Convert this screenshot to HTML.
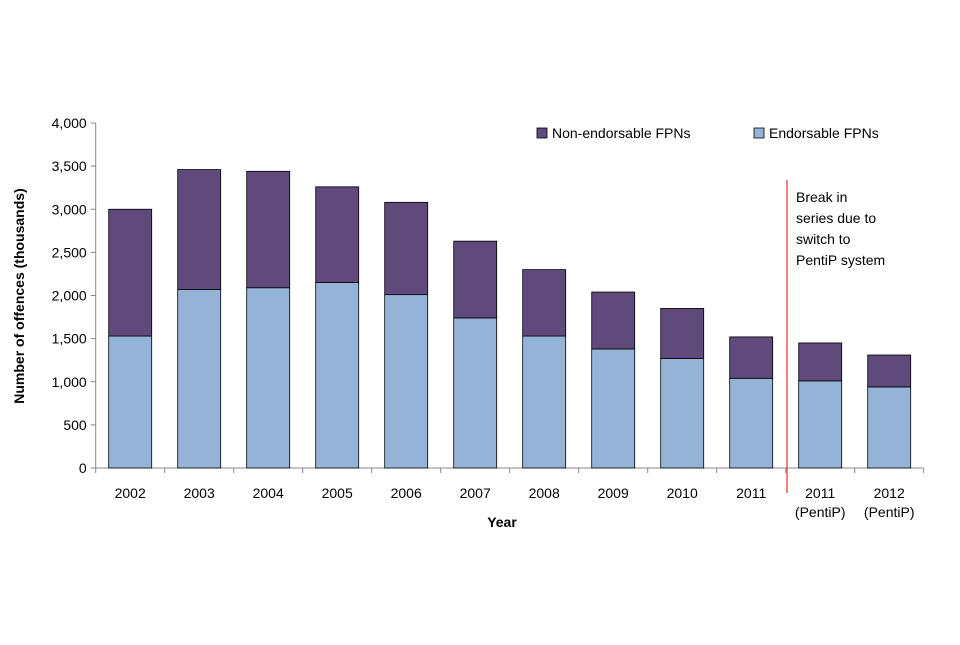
<!DOCTYPE html>
<html><head><meta charset="utf-8"><style>
body{margin:0;background:#fff;font-family:"Liberation Sans",sans-serif}
svg text{font-family:"Liberation Sans",sans-serif}
</style></head><body>
<svg id="chart" width="960" height="640" xmlns="http://www.w3.org/2000/svg">
<g id="axes"></g>
<g id="bars"></g>
<line x1="787" y1="180" x2="787" y2="493" stroke="#e0302a" stroke-width="1.2"/>
<text font-size="14" fill="#000"><tspan x="796" y="202">Break in</tspan><tspan x="796" y="223">series due to</tspan><tspan x="796" y="244">switch to</tspan><tspan x="796" y="265">PentiP system</tspan></text>
<g>
<rect x="537" y="128" width="10" height="10" fill="#604a7b" stroke="#000" stroke-width="0.8"/>
<text x="552" y="138" font-size="14">Non-endorsable FPNs</text>
<rect x="754" y="128" width="10" height="10" fill="#95b3d7" stroke="#000" stroke-width="0.8"/>
<text x="769" y="138" font-size="14">Endorsable FPNs</text>
</g>
<text x="502" y="527" font-size="14" font-weight="bold" text-anchor="middle">Year</text>
<text transform="translate(24,296) rotate(-90)" font-size="14" font-weight="bold" text-anchor="middle">Number of offences (thousands)</text>
</svg>
<script>
const categories=["2002","2003","2004","2005","2006","2007","2008","2009","2010","2011","2011|(PentiP)","2012|(PentiP)"];
const endorsable=[1530,2070,2090,2150,2010,1740,1530,1380,1270,1040,1010,940];
const totals=[3000,3460,3440,3260,3080,2630,2300,2040,1850,1520,1450,1310];
const yTicks=[0,500,1000,1500,2000,2500,3000,3500,4000];
const yTickLabels=["0","500","1,000","1,500","2,000","2,500","3,000","3,500","4,000"];
const NS="http://www.w3.org/2000/svg";
const x0=95.7,band=69,x1=x0+band*12,yBase=468,yTop=123,yMax=4000;
const y=v=>yBase-(v/yMax)*(yBase-yTop);
const xc=i=>x0+band*(i+0.5);
const axes=document.getElementById('axes'),bars=document.getElementById('bars');
function mk(t,a,p){const e=document.createElementNS(NS,t);for(const k in a)e.setAttribute(k,a[k]);p.appendChild(e);return e;}
let l=mk('line',{x1:x0,y1:yTop,x2:x0,y2:yBase,stroke:'#888'},axes);


l=mk('line',{x1:x0,y1:yBase,x2:x1,y2:yBase,stroke:'#888'},axes);


yTicks.forEach((v,i)=>{
 const t=mk('line',{x1:x0-5,y1:y(v),x2:x0,y2:y(v),stroke:'#888'},axes);
 
 
 const tx=mk('text',{x:x0-9,y:y(v)+5,'font-size':14,'text-anchor':'end'},axes);
 tx.textContent=yTickLabels[i];
 
 
});
for(let i=0;i<=categories.length;i++){
 const t=mk('line',{x1:x0+band*i,y1:yBase,x2:x0+band*i,y2:yBase+5,stroke:'#888'},axes);
 
 
}
const bw=43;
categories.forEach((c,i)=>{
 const r1=mk('rect',{x:xc(i)-bw/2,y:y(endorsable[i]),width:bw,height:yBase-y(endorsable[i]),fill:'#95b3d7',stroke:'#000','stroke-width':0.8},bars);
 
 
 const r2=mk('rect',{x:xc(i)-bw/2,y:y(totals[i]),width:bw,height:y(endorsable[i])-y(totals[i]),fill:'#604a7b',stroke:'#000','stroke-width':0.8},bars);
 
 
 const parts=c.split('|');
 parts.forEach((p,j)=>{
  const tx=mk('text',{x:xc(i),y:498+j*19,'font-size':14,'text-anchor':'middle'},axes);
  tx.textContent=p;
  
  
 });
});
</script>
</body></html>
